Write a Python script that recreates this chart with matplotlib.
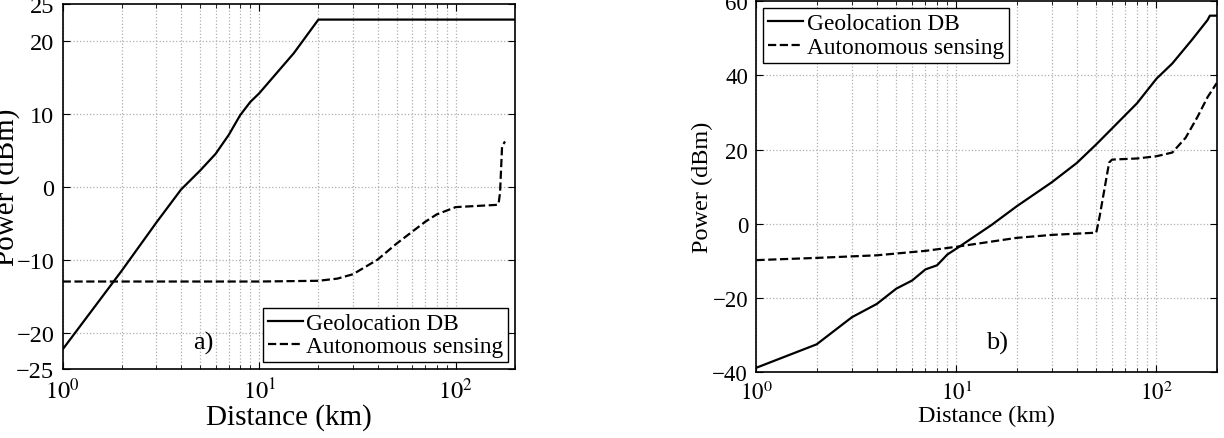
import math
import matplotlib
matplotlib.use("Agg")
import matplotlib.pyplot as plt
from matplotlib.ticker import FixedLocator, FuncFormatter

plt.rcParams['font.family'] = ['Liberation Serif', 'DejaVu Serif']
plt.rcParams['mathtext.fontset'] = 'stix'

# ---- panel a) ----
a_geo_x = [1, 2, 3, 4, 5, 6, 7, 8, 9, 10, 15, 20, 200]
a_geo_y = [-22.3, -11.5, -4.9, -0.4, 2.2, 4.5, 7.1, 9.8, 11.6, 12.8, 18.3, 22.9, 22.9]
a_aut_x = [1, 5, 10, 20, 25, 30, 40, 50, 70, 80, 100, 160, 165, 168, 172, 178]
a_aut_y = [-13.0, -13.0, -13.0, -12.9, -12.6, -12.0, -10.0, -7.8, -4.8, -3.8, -2.8, -2.5, -2.4, -0.8, 5.5, 6.2]

# ---- panel b) ----
b_geo_x = [1, 2, 3, 4, 5, 6, 7, 8, 9, 10, 15, 20, 30, 40, 50, 60, 80, 100, 120, 150, 180, 185, 200]
b_geo_y = [-38.8, -32.5, -25.2, -21.6, -17.5, -15.3, -12.3, -11.2, -8.3, -6.7, -0.3, 4.7, 11.2, 16.4,
           21.4, 25.7, 32.5, 39.1, 43.2, 49.5, 54.9, 56.1, 56.1]
b_aut_x = [1, 2, 4, 7, 10, 20, 30, 50, 52, 58, 60, 80, 100, 120, 140, 160, 180, 200]
b_aut_y = [-9.8, -9.2, -8.5, -7.3, -6.2, -3.8, -3.0, -2.4, 2.0, 16.5, 17.3, 17.6, 18.2, 19.2, 23.2,
           28.7, 34.1, 37.9]

a_yticks = [-25, -20, -10, 0, 10, 20, 25]
b_yticks = [-40, -20, 0, 20, 40, 60]
xticks = [1, 10, 100]


def style_axis(ax, yticks, ygrid, tick_fs):
    ax.set_xscale('log')
    ax.set_xlim(1, 200)
    ax.xaxis.set_major_locator(FixedLocator(xticks))
    ax.xaxis.set_major_formatter(FuncFormatter(lambda v, p: r'$10^{%d}$' % round(math.log10(v))))
    ax.set_yticks(yticks)
    ax.yaxis.set_major_formatter(FuncFormatter(lambda v, p: '%d' % v if v >= 0 else '\u2212%d' % -v))
    ax.tick_params(which='both', direction='in', top=True, right=True, labelsize=tick_fs)
    ax.tick_params(which='major', length=5, pad=6)
    ax.tick_params(which='minor', length=3)
    ax.xaxis.grid(True, which='both', linestyle=':', color='#b0b0b0', linewidth=0.9)
    for g in ygrid:
        ax.axhline(g, linestyle=':', color='#b0b0b0', linewidth=0.9, zorder=0)
    for s in ax.spines.values():
        s.set_linewidth(1.2)


def add_legend(ax, loc):
    leg = ax.legend(loc=loc, fontsize=16.8, handlelength=1.5, handletextpad=0.15,
                    borderpad=0.2, labelspacing=0.1, borderaxespad=0.3, fancybox=False, framealpha=1)
    leg.get_frame().set_edgecolor('black')
    leg.get_frame().set_linewidth(1.0)


fig = plt.figure(figsize=(12.24, 4.39), dpi=100)
ax1 = fig.add_axes([0.0512, 0.157, 0.3695, 0.831])
ax2 = fig.add_axes([0.618, 0.150, 0.376, 0.845])

# panel a
ax1.plot(a_geo_x, a_geo_y, 'k-', linewidth=1.6, label='Geolocation DB')
ax1.plot(a_aut_x, a_aut_y, 'k--', linewidth=1.6, label='Autonomous sensing')
ax1.set_ylim(-25, 25)
style_axis(ax1, a_yticks, [-20, -10, 0, 10, 20], 17.5)
ax1.set_xlabel('Distance (km)', fontsize=21, labelpad=0)
ax1.set_ylabel('Power (dBm)', fontsize=21)
ax1.yaxis.set_label_coords(-0.095, 0.5)
ax1.text(5.2, -21.3, 'a)', fontsize=19, ha='center', va='center')
add_legend(ax1, 'lower right')

# panel b
ax2.plot(b_geo_x, b_geo_y, 'k-', linewidth=1.6, label='Geolocation DB')
ax2.plot(b_aut_x, b_aut_y, 'k--', linewidth=1.6, label='Autonomous sensing')
ax2.set_ylim(-40, 60)
style_axis(ax2, b_yticks, [-20, 0, 20, 40], 16.5)
ax2.set_xlabel('Distance (km)', fontsize=17.3, labelpad=1)
ax2.set_ylabel('Power (dBm)', fontsize=17.5)
ax2.yaxis.set_label_coords(-0.095, 0.5)
ax2.text(15.9, -32, 'b)', fontsize=19, ha='center', va='center')
add_legend(ax2, 'upper left')

fig.savefig('out.png', dpi=100)
